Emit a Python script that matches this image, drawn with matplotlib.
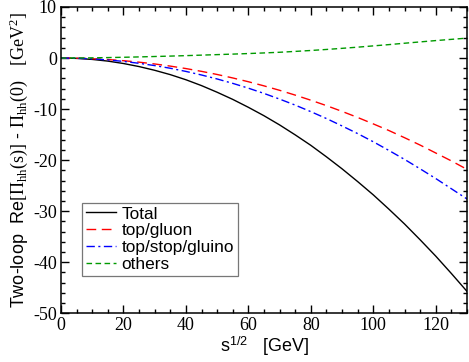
import matplotlib
matplotlib.use("Agg")
import matplotlib.pyplot as plt
from matplotlib.ticker import MultipleLocator

plt.rcParams['axes.unicode_minus'] = False
plt.rcParams['mathtext.fontset'] = 'custom'
plt.rcParams['mathtext.rm'] = 'Liberation Serif'
plt.rcParams['mathtext.it'] = 'Liberation Serif:italic'
plt.rcParams['mathtext.sf'] = 'Liberation Sans'

# data
sqrt_s = [0, 5, 10, 15, 20, 25, 30, 35, 40, 45, 50, 55, 60, 65, 70, 75, 80, 85, 90,
          95, 100, 105, 110, 115, 120, 125, 130]
top_gluon = [0, -0.03, -0.13, -0.29, -0.52, -0.81, -1.16, -1.58, -2.06, -2.61, -3.22, -3.9, -4.64,
             -5.45, -6.32, -7.26, -8.26, -9.32, -10.45, -11.64, -12.9, -14.2, -15.6, -17.05, -18.6, -20.15, -21.8]
top_stop_gluino = [0, -0.04, -0.16, -0.37, -0.66, -1.03, -1.48, -2.0, -2.62, -3.32, -4.1, -4.96, -5.9,
                   -6.93, -8.04, -9.22, -10.5, -11.85, -13.3, -14.8, -16.4, -18.1, -19.85, -21.7, -23.6, -25.6, -27.6]
others = [0, 0.01, 0.04, 0.09, 0.15, 0.22, 0.3, 0.38, 0.47, 0.57, 0.67, 0.77, 0.88,
          1.0, 1.13, 1.3, 1.48, 1.68, 1.9, 2.13, 2.38, 2.63, 2.9, 3.16, 3.42, 3.66, 3.9]
total = [0, -0.07, -0.27, -0.6, -1.07, -1.67, -2.4, -3.25, -4.25, -5.4, -6.7, -8.1, -9.65,
         -11.3, -13.1, -15.05, -17.1, -19.35, -21.7, -24.2, -26.8, -29.6, -32.5, -35.6, -38.8, -42.2, -45.7]

fig = plt.figure(figsize=(4.69, 3.62), dpi=100)
ax = fig.add_axes([0.130, 0.1345, 0.8657, 0.8462])

lw = 1.0
ax.plot(sqrt_s, total, color='black', lw=lw, label='Total')
ax.plot(sqrt_s, top_gluon, color='#ff0000', lw=lw, dashes=(7, 4), label='top/gluon')
ax.plot(sqrt_s, top_stop_gluino, color='#0000ff', lw=lw, dashes=(6, 2.5, 1.5, 2.5), label='top/stop/gluino')
ax.plot(sqrt_s, others, color='#009a00', lw=lw, dashes=(4, 2.5), label='others')

ax.set_xlim(0, 130)
ax.set_ylim(-50, 10)
ax.xaxis.set_major_locator(MultipleLocator(20))
ax.xaxis.set_minor_locator(MultipleLocator(5))
ax.yaxis.set_major_locator(MultipleLocator(10))
ax.yaxis.set_minor_locator(MultipleLocator(2))
ax.tick_params(which='both', direction='in', top=True, right=True, width=1.0)
ax.tick_params(which='major', length=6, labelsize=13, pad=3)
ax.tick_params(which='minor', length=3)
for lab in ax.get_xticklabels() + ax.get_yticklabels():
    lab.set_fontfamily('Liberation Serif')
for sp in ax.spines.values():
    sp.set_linewidth(1.1)

ax.set_xlabel(r"$\mathsf{s}^{\mathsf{1/2}}$   [GeV]", fontsize=13,
              fontfamily='Liberation Sans', labelpad=0)
ax.set_ylabel(r"Two-loop  Re$[\Pi_{\mathrm{hh}}(\mathrm{s})]$ - $\Pi_{\mathrm{hh}}(0)$   $[\mathrm{GeV}^2]$",
              fontsize=13, fontfamily='Liberation Sans', labelpad=2)

leg = ax.legend(loc='lower left', bbox_to_anchor=(0.053, 0.123), borderaxespad=0,
                prop={'family': 'Liberation Sans', 'size': 12.4}, frameon=True,
                fancybox=False, handlelength=1.75, handletextpad=0.3,
                labelspacing=0.1, borderpad=0.22)
leg.get_frame().set_edgecolor('#555555')
leg.get_frame().set_linewidth(0.9)

fig.savefig('out.png', dpi=100)
